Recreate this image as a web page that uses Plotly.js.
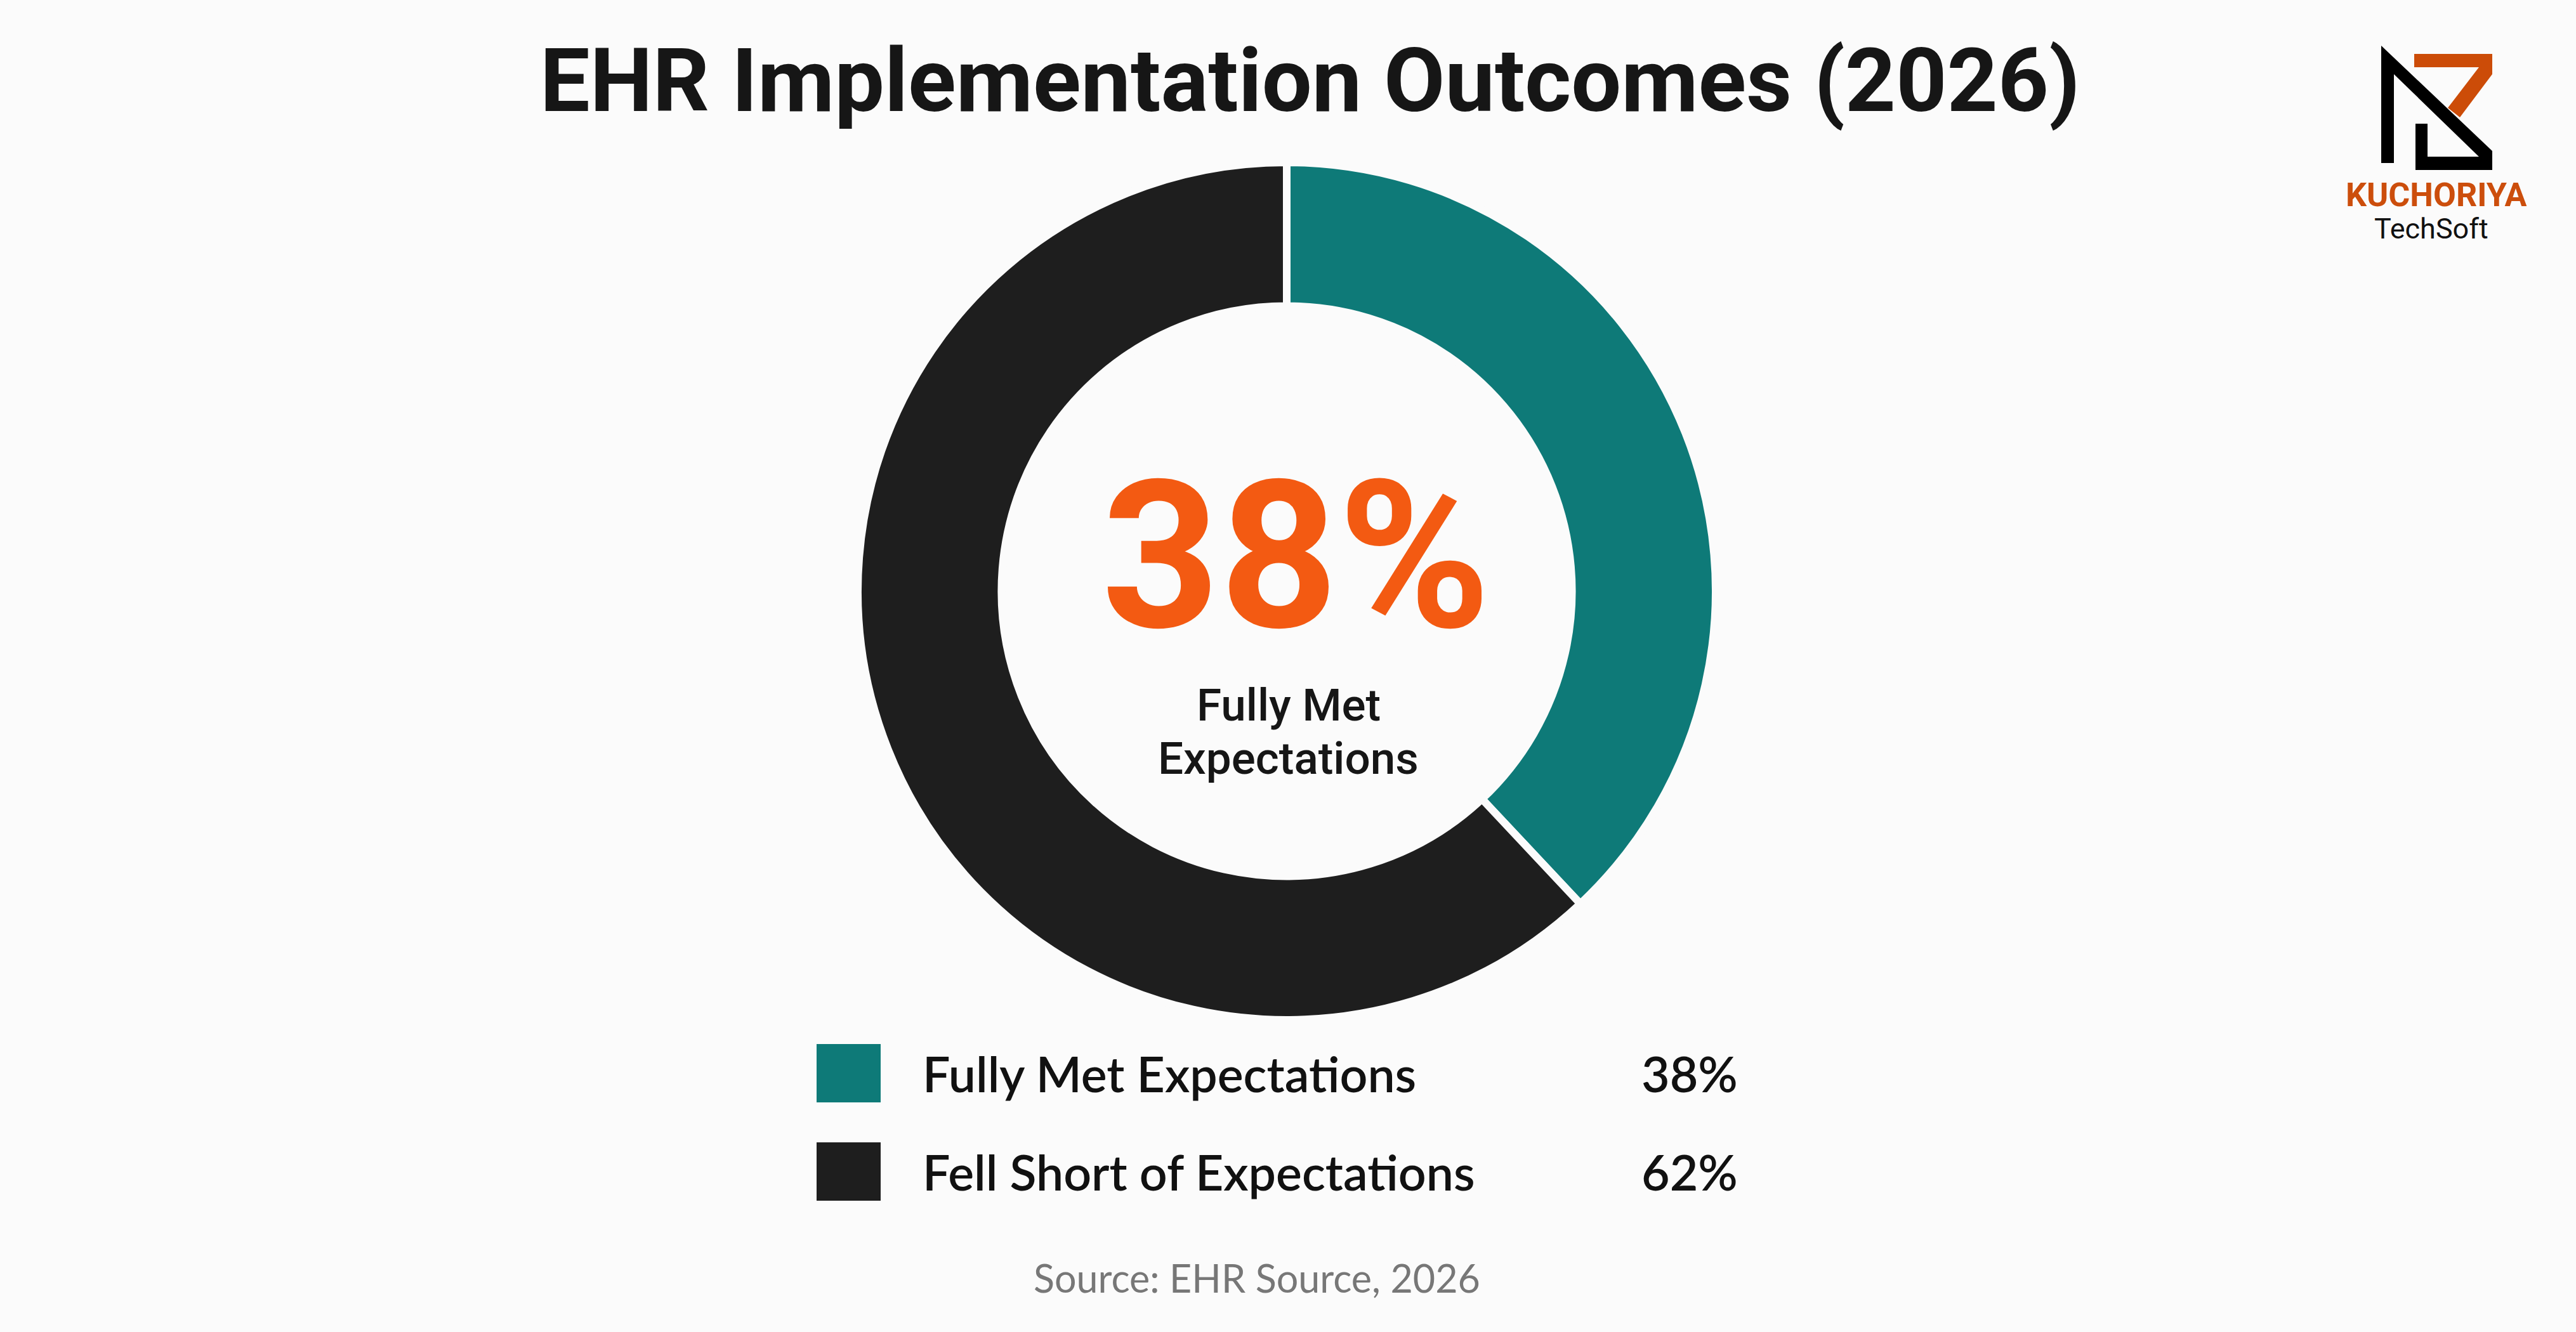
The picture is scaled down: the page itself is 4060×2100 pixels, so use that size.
<!DOCTYPE html>
<html><head><meta charset="utf-8">
<script src="https://cdn.plot.ly/plotly-3.0.1.min.js"></script>
<style>html,body{margin:0;padding:0;background:#fbfbfb;}</style>
</head><body><div id="chart" style="width:4060px;height:2100px;"></div>
<script>
// ---- data ----
const categories = ["Fully Met Expectations", "Fell Short of Expectations"];
const values = [38, 62];
const valueLabels = ["38%", "62%"];
const sliceColors = ["#0E7A78", "#1E1E1E"];
const titleText = "EHR Implementation Outcomes (2026)";
const centerValue = "38%";
const centerLabel = ["Fully Met", "Expectations"];
const sourceText = "Source: EHR Source, 2026";
const logoName = "KUCHORIYA";
const logoSub = "TechSoft";

// ---- layout helpers ----
const W = 4060, H = 2100;
const px = x => x / W;
const py = y => 1 - y / H;
const cx = 2028, cy = 932, R = 676;

const trace = {
  type: "pie",
  labels: categories,
  values: values,
  hole: 0.665,
  sort: false,
  direction: "clockwise",
  rotation: 0,
  textinfo: "none",
  hoverinfo: "label+percent",
  marker: { colors: sliceColors, line: { color: "#fbfbfb", width: 12 } },
  domain: { x: [px(cx - R), px(cx + R)], y: [py(cy + R), py(cy - R)] },
  showlegend: false
};

const annotations = [];
const shapes = [];

// title
annotations.push({ xref: "paper", yref: "paper", x: px(2064), y: py(127), xanchor: "center", yanchor: "middle",
  text: "<b>" + titleText + "</b>", showarrow: false,
  font: { family: "Roboto, sans-serif", size: 140, color: "#161616" } });

// center text
annotations.push({ xref: "paper", yref: "paper", x: px(2042), y: py(876), xanchor: "center", yanchor: "middle",
  text: "<b>" + centerValue + "</b>", showarrow: false,
  font: { family: "Roboto, sans-serif", size: 325, color: "#F35A12" } });
const labelY = [1111, 1195];
centerLabel.forEach((t, i) => {
  annotations.push({ xref: "paper", yref: "paper", x: px(2031), y: py(labelY[i]), xanchor: "center", yanchor: "middle",
    text: t, showarrow: false,
    font: { family: "Roboto, sans-serif", size: 71, color: "#161616", weight: 500 } });
});

// legend rows
const rowY = [1692, 1847];
categories.forEach((c, i) => {
  const yc = rowY[i];
  shapes.push({ type: "rect", xref: "paper", yref: "paper",
    x0: px(1287), x1: px(1388), y0: py(yc - 46), y1: py(yc + 46),
    fillcolor: sliceColors[i], line: { width: 0 } });
  annotations.push({ xref: "paper", yref: "paper", x: px(1452), y: py(yc), xanchor: "left", yanchor: "middle",
    text: c, showarrow: false,
    font: { family: "Lato, sans-serif", size: 77, color: "#111111", weight: 600 } });
  annotations.push({ xref: "paper", yref: "paper", x: px(2585), y: py(yc), xanchor: "left", yanchor: "middle",
    text: valueLabels[i], showarrow: false,
    font: { family: "Lato, sans-serif", size: 77, color: "#111111", weight: 600 } });
});

// source
annotations.push({ xref: "paper", yref: "paper", x: px(1981), y: py(2014), xanchor: "center", yanchor: "middle",
  text: sourceText, showarrow: false,
  font: { family: "Lato, sans-serif", size: 61, color: "#777777" } });

// logo
function poly(pts) {
  return "M " + pts.map(p => px(p[0]) + "," + py(p[1])).join(" L ") + " Z";
}
const orangePts = [[3805,85],[3928,85],[3928,117],[3877,185],[3858,170],[3907,106],[3805,106]];
const blackPts = [[3753,72],[3928,238],[3928,268],[3807,268],[3807,195],[3826,195],[3826,247],[3907,247],[3773,117],[3773,257],[3753,257]];
shapes.push({ type: "path", xref: "paper", yref: "paper", path: poly(orangePts), fillcolor: "#CC4C08", line: { width: 0 } });
shapes.push({ type: "path", xref: "paper", yref: "paper", path: poly(blackPts), fillcolor: "#000000", line: { width: 0 } });
annotations.push({ xref: "paper", yref: "paper", x: px(3840), y: py(307), xanchor: "center", yanchor: "middle",
  text: "<b>" + logoName + "</b>", showarrow: false,
  font: { family: "Roboto, sans-serif", size: 52, color: "#CC4E0C" } });
annotations.push({ xref: "paper", yref: "paper", x: px(3832), y: py(360), xanchor: "center", yanchor: "middle",
  text: logoSub, showarrow: false,
  font: { family: "Roboto, sans-serif", size: 45, color: "#111111" } });

const layout = {
  width: W, height: H,
  margin: { l: 0, r: 0, t: 0, b: 0 },
  paper_bgcolor: "#fbfbfb",
  plot_bgcolor: "#fbfbfb",
  showlegend: false,
  annotations: annotations,
  shapes: shapes
};

Plotly.newPlot("chart", [trace], layout, { displayModeBar: false, staticPlot: true });
</script>
</body></html>
